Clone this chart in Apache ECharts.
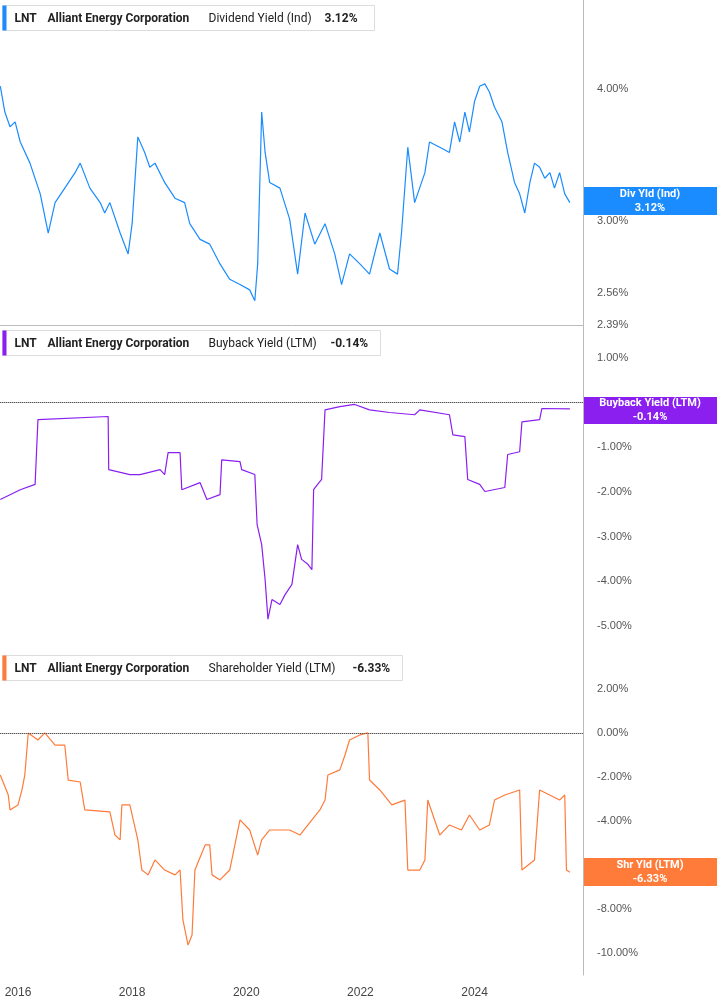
<!DOCTYPE html>
<html><head><meta charset="utf-8">
<script src="https://cdn.jsdelivr.net/npm/echarts@6/dist/echarts.min.js"></script>
<style>html,body{margin:0;padding:0;background:#fff}#c{width:717px;height:1005px}</style>
</head><body><div id="c"></div>
<script>
const divDates=[2015.69,2015.77,2015.86,2015.95,2016.04,2016.21,2016.39,2016.53,2016.65,2016.82,2017.00,2017.09,2017.26,2017.44,2017.52,2017.61,2017.79,2017.93,2018.00,2018.10,2018.22,2018.31,2018.40,2018.57,2018.75,2018.92,2019.01,2019.19,2019.36,2019.54,2019.71,2019.89,2020.06,2020.15,2020.20,2020.27,2020.33,2020.41,2020.59,2020.76,2020.90,2021.03,2021.20,2021.38,2021.55,2021.67,2021.81,2021.99,2022.16,2022.34,2022.51,2022.65,2022.72,2022.83,2022.95,2023.13,2023.21,2023.39,2023.56,2023.65,2023.74,2023.83,2023.91,2024.00,2024.09,2024.18,2024.26,2024.35,2024.48,2024.58,2024.70,2024.79,2024.88,2024.97,2025.05,2025.14,2025.23,2025.32,2025.40,2025.49,2025.58,2025.67];
const divYield=[4.02,3.80,3.68,3.72,3.56,3.40,3.18,2.92,3.12,3.22,3.33,3.40,3.22,3.12,3.05,3.12,2.92,2.79,2.98,3.60,3.48,3.37,3.40,3.26,3.15,3.12,2.98,2.88,2.85,2.73,2.64,2.61,2.58,2.52,2.73,3.80,3.48,3.26,3.22,3.01,2.67,3.05,2.85,2.98,2.79,2.61,2.79,2.73,2.67,2.92,2.70,2.67,2.92,3.52,3.12,3.33,3.56,3.52,3.48,3.72,3.56,3.80,3.64,3.89,4.02,4.04,3.97,3.84,3.72,3.48,3.26,3.18,3.05,3.26,3.40,3.37,3.29,3.33,3.22,3.33,3.18,3.12];
const bbDates=[2015.69,2016.04,2016.30,2016.35,2017.58,2017.59,2017.96,2018.14,2018.49,2018.57,2018.63,2018.84,2018.87,2019.19,2019.31,2019.54,2019.57,2019.89,2019.92,2020.15,2020.19,2020.27,2020.33,2020.38,2020.45,2020.59,2020.68,2020.80,2020.90,2020.97,2021.08,2021.15,2021.18,2021.25,2021.32,2021.38,2021.64,2021.90,2022.16,2022.51,2022.95,2023.04,2023.56,2023.62,2023.83,2023.88,2024.09,2024.18,2024.53,2024.58,2024.79,2024.83,2025.14,2025.18,2025.67];
const bbYield=[-2.17,-1.95,-1.83,-0.38,-0.31,-1.50,-1.61,-1.61,-1.50,-1.61,-1.12,-1.12,-1.95,-1.79,-2.17,-2.06,-1.28,-1.32,-1.50,-1.61,-2.73,-3.18,-3.96,-4.85,-4.41,-4.52,-4.30,-4.07,-3.18,-3.51,-3.62,-3.74,-1.95,-1.83,-1.72,-0.16,-0.09,-0.04,-0.16,-0.22,-0.27,-0.16,-0.27,-0.72,-0.76,-1.72,-1.83,-1.99,-1.90,-1.16,-1.10,-0.43,-0.38,-0.13,-0.14];
const shDates=[2015.69,2015.83,2015.86,2016.00,2016.07,2016.12,2016.18,2016.35,2016.47,2016.65,2016.82,2016.88,2017.09,2017.17,2017.61,2017.70,2017.79,2017.82,2017.96,2018.10,2018.17,2018.28,2018.40,2018.57,2018.75,2018.84,2018.89,2018.98,2019.05,2019.10,2019.28,2019.36,2019.40,2019.54,2019.71,2019.89,2020.06,2020.20,2020.27,2020.41,2020.76,2020.94,2021.15,2021.29,2021.38,2021.43,2021.64,2021.73,2021.81,2021.99,2022.13,2022.16,2022.34,2022.55,2022.78,2022.83,2023.04,2023.13,2023.18,2023.39,2023.56,2023.77,2023.91,2024.09,2024.26,2024.35,2024.53,2024.79,2024.83,2025.05,2025.14,2025.49,2025.58,2025.61,2025.67];
const shYield=[-1.91,-2.82,-3.5,-3.27,-2.59,-1.91,0,-0.32,0,-0.55,-0.55,-2.14,-2.23,-3.5,-3.59,-4.64,-4.86,-3.27,-3.27,-4.86,-6.23,-6.45,-5.77,-6.23,-6.45,-6.23,-8.5,-9.64,-9.18,-6.23,-5.09,-5.09,-6.45,-6.68,-6.23,-3.95,-4.41,-5.55,-4.86,-4.41,-4.41,-4.64,-3.95,-3.5,-3.05,-1.91,-1.68,-1.0,-0.32,-0.09,0,-2.14,-2.59,-3.27,-3.05,-6.23,-6.23,-5.77,-3.05,-4.64,-4.18,-4.41,-3.73,-4.41,-4.18,-3.05,-2.82,-2.59,-6.23,-5.77,-2.59,-3.05,-2.82,-6.23,-6.33];
const yearTicks=[2016,2018,2020,2022,2024];
const divTicks=[2.39,2.56,3.0,4.0];
const bbTicks=[1,-1,-2,-3,-4,-5];
const shTicks=[2,0,-2,-4,-8,-10];

const BLUE='#1a8cff',PURPLE='#8a1ff0',ORANGE='#ff7b3a';
const XMIN=2015.685,XMAX=2025.9;
const tops=[0,325,650];
function xa(i,show){return {type:'value',gridIndex:i,min:XMIN,max:XMAX,
 axisLine:{show:true,lineStyle:{color:'#bbb'}},axisTick:{show:false},splitLine:{show:false},
 axisLabel:{show:show,customValues:yearTicks,formatter:v=>String(Math.round(v)),color:'#444',fontSize:12,margin:12}};}
function ya(i,extra){return Object.assign({gridIndex:i,position:'right',axisLine:{show:true,lineStyle:{color:'#bbb'}},
 axisTick:{show:false},splitLine:{show:false},
 axisLabel:{color:'#555',fontSize:11,margin:14,formatter:v=>v.toFixed(2)+'%'}},extra);}
function zeroLine(){return {symbol:'none',silent:true,label:{show:false},lineStyle:{type:'dotted',color:'#555',width:1},data:[{yAxis:0}]};}
function legend(y,color,name,val,w){
 return {type:'group',left:2,top:y+5,children:[
  {type:'rect',shape:{x:0,y:0,width:w,height:25},style:{fill:'#fff',stroke:'#ddd'}},
  {type:'rect',shape:{x:0,y:0,width:4,height:25},style:{fill:color}},
  {type:'text',x:12,y:7,style:{text:'LNT',font:'bold 12px Roboto',fill:'#222'}},
  {type:'text',x:45,y:7,style:{text:'Alliant Energy Corporation',font:'bold 12px Roboto',fill:'#222'}},
  {type:'text',x:206,y:7,style:{text:name,font:'12px Roboto',fill:'#222'}},
  {type:'text',x:w-50,y:7,style:{text:val,font:'bold 12px Roboto',fill:'#222'}}]};}
function tag(y,h,color,l1,l2){return {type:'group',left:583,top:y,children:[
 {type:'rect',shape:{x:0,y:0,width:134,height:h},style:{fill:color}},
 {type:'text',x:67,y:h/2-7,style:{text:l1,font:'bold 11px Roboto',fill:'#fff',align:'center',verticalAlign:'middle'}},
 {type:'text',x:67,y:h/2+7,style:{text:l2,font:'bold 11px Roboto',fill:'#fff',align:'center',verticalAlign:'middle'}}]};}
const chart=echarts.init(document.getElementById('c'));
chart.setOption({animation:false,
 grid:tops.map(t=>({left:0,right:134,top:t,height:325})),
 xAxis:[xa(0,false),xa(1,false),xa(2,true)],
 yAxis:[ya(0,{type:'log',min:2.39,max:4.85,axisLabel:{color:'#555',fontSize:11,margin:14,customValues:divTicks,formatter:v=>v.toFixed(2)+'%'}}),
  ya(1,{type:'value',min:-5.54,max:1.74,axisLabel:{color:'#555',fontSize:11,margin:14,customValues:bbTicks,formatter:v=>v.toFixed(2)+'%'}}),
  ya(2,{type:'value',min:-11,max:3.77,axisLabel:{color:'#555',fontSize:11,margin:14,customValues:shTicks,formatter:v=>v.toFixed(2)+'%'}})],
 series:[
  {type:'line',xAxisIndex:0,yAxisIndex:0,data:divDates.map((d,i)=>[d,divYield[i]]),symbol:'none',lineStyle:{color:BLUE,width:1.2}},
  {type:'line',xAxisIndex:1,yAxisIndex:1,data:bbDates.map((d,i)=>[d,bbYield[i]]),symbol:'none',lineStyle:{color:PURPLE,width:1.2},markLine:zeroLine()},
  {type:'line',xAxisIndex:2,yAxisIndex:2,data:shDates.map((d,i)=>[d,shYield[i]]),symbol:'none',lineStyle:{color:ORANGE,width:1.2},markLine:zeroLine()}],
 graphic:[legend(0,BLUE,'Dividend Yield (Ind)','3.12%',372),
  legend(325,PURPLE,'Buyback Yield (LTM)','-0.14%',378),
  legend(650,ORANGE,'Shareholder Yield (LTM)','-6.33%',400),
  tag(187,28,BLUE,'Div Yld (Ind)','3.12%'),
  tag(397,27,PURPLE,'Buyback Yield (LTM)','-0.14%'),
  tag(858,28,ORANGE,'Shr Yld (LTM)','-6.33%')]
});
</script></body></html>
